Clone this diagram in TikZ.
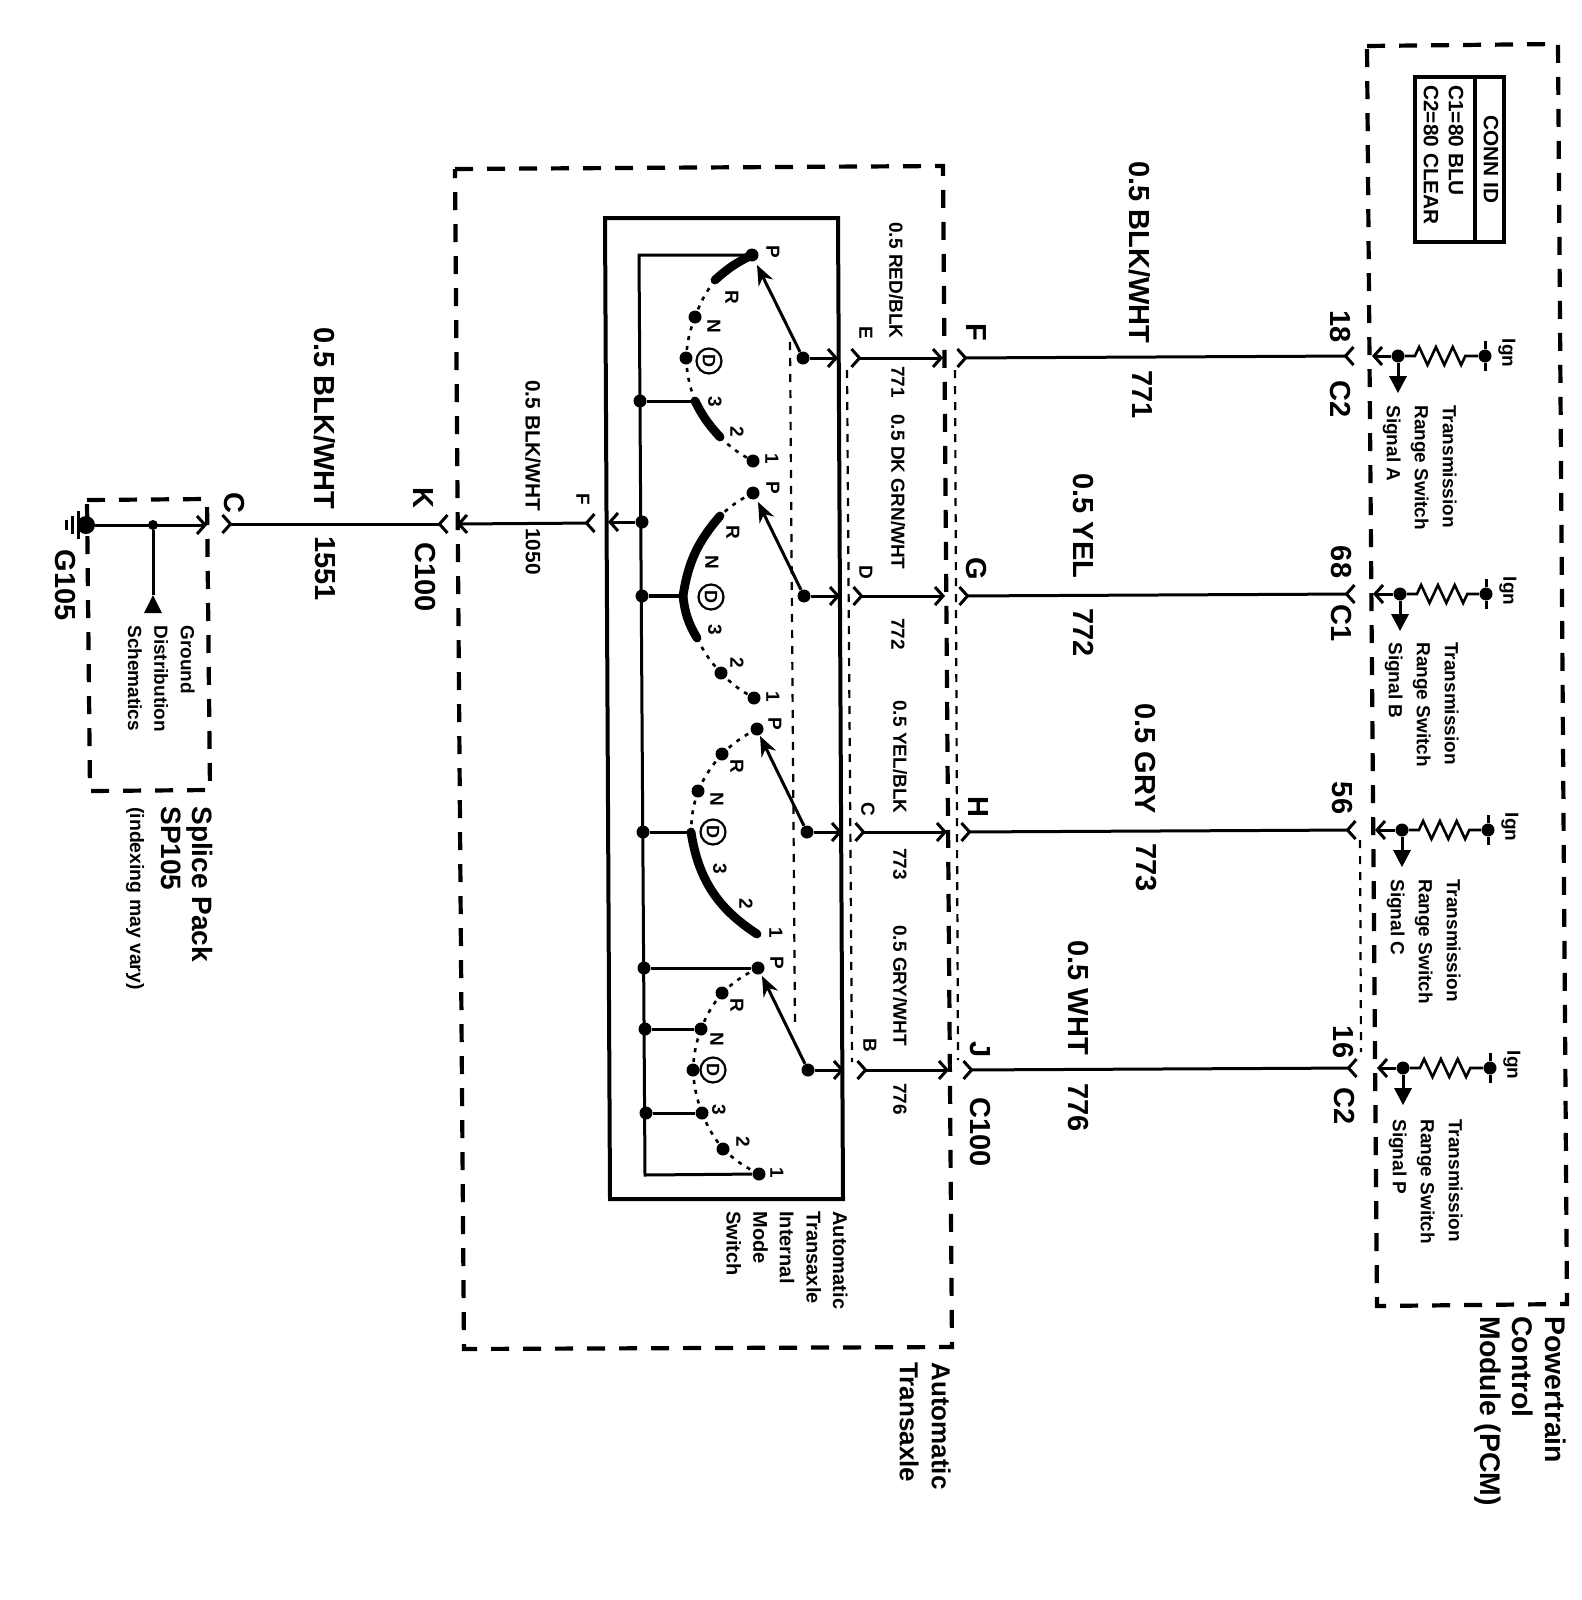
\documentclass[tikz,border=0pt]{standalone}
\usepackage{fontspec}
\setmainfont{Liberation Sans}
\usetikzlibrary{arrows.meta,decorations.pathmorphing}
\tikzset{
  >={Straight Barb[length=4pt,width=9pt]},
  wire/.style={line width=1.5pt},
  rail/.style={line width=1.5pt},
  shell/.style={line width=2.1pt,dash pattern=on 9pt off 7pt},
  thinshell/.style={line width=1.1pt,dash pattern=on 4pt off 4pt},
  dotarc/.style={line width=1.3pt,dash pattern=on 2pt off 3pt},
  thickarc/.style={line width=4.4pt,line cap=round},
  arm/.style={line width=1.5pt,-{Stealth[length=10pt,width=8pt]}},
  dot/.style={circle,fill=black,inner sep=0pt,minimum size=6.5pt},
  bigdot/.style={circle,fill=black,inner sep=0pt,minimum size=9pt},
  txt/.style={rotate=-90,inner sep=0pt,anchor=west},
  biglabel/.style={txt,font=\fontsize{14.5}{16}\selectfont\bfseries},
  midlabel/.style={txt,font=\fontsize{10.4}{13.5}\selectfont\bfseries},
  smalllabel/.style={txt,font=\fontsize{9.5}{14}\selectfont\bfseries},
  contact/.style={rotate=-90,inner sep=0pt,font=\fontsize{9.5}{10}\selectfont\bfseries},
  circd/.style={contact,circle,draw,line width=1.1pt,minimum size=12.5pt,font=\fontsize{9}{10}\selectfont\bfseries},
  block/.style={anchor=north west,align=left},
  coil/.style={line width=1.3pt,decorate,decoration={zigzag,segment length=8.4pt,amplitude=4.5pt,
    pre=lineto,pre length=5pt,post=lineto,post length=5pt}},
}
\begin{document}
\begin{tikzpicture}[x=0.5pt,y=-0.5pt]
\useasboundingbox (0,0) rectangle (1582,1600);

% outer boxes
\draw[shell] (455,169) -- (943,166) -- (952,1347) -- (464,1349) -- cycle;
\draw[shell] (1367,46) -- (1558,44) -- (1567,1304) -- (1377,1306) -- cycle;
\draw[shell] (87,500) -- (207,499) -- (210,790) -- (90,791) -- cycle;
\draw[line width=2pt] (605,218) -- (838,218) -- (843,1199) -- (610,1199) -- cycle;
\draw[line width=2pt] (1415,77) rectangle (1504,242);
\draw[line width=1.6pt] (1475,77) -- (1475,242);

% connector shells
\draw[thinshell] (790,342) -- (795,1029);
\draw[thinshell] (847,370) -- (852,1062);
\draw[thinshell] (955,370) -- (958,1060);
\draw[thinshell] (1360,840) -- (1361,1052);

% contacts
\node[dot] (pE) at (752,255) {};
\coordinate (rE) at (715,280);
\node[dot] (nE) at (695,317) {};
\node[dot] (dE) at (686,358) {};
\coordinate (thE) at (695,401);
\coordinate (twE) at (720,437);
\node[dot] (oE) at (753,461) {};
\node[dot] (hubE) at (803,358) {};
\coordinate (tipE) at (757,265);

\node[dot] (pD) at (753,493) {};
\coordinate (rD) at (720,516);
\coordinate (dD) at (683,596);
\coordinate (thD) at (697,638);
\node[dot] (twD) at (721,673) {};
\node[dot] (oD) at (754,698) {};
\node[dot] (hubD) at (804,596) {};
\coordinate (tipD) at (758,502);

\node[dot] (pC) at (757,729) {};
\node[dot] (rC) at (722,754) {};
\node[dot] (nC) at (698,791) {};
\coordinate (dC) at (691,832);
\coordinate (oC) at (757,934);
\node[dot] (hubC) at (807,832) {};
\coordinate (tipC) at (760,736);

\node[dot] (pB) at (758,968) {};
\node[dot] (rB) at (722,993) {};
\node[dot] (nB) at (701,1029) {};
\node[dot] (dB) at (693,1070) {};
\node[dot] (thB) at (702,1113) {};
\node[dot] (twB) at (723,1149) {};
\node[dot] (oB) at (759,1174) {};
\node[dot] (hubB) at (808,1070) {};
\coordinate (tipB) at (762,976);

% rail
\coordinate (railTop) at (639,255);
\coordinate (railBot) at (645,1175);
\node[dot] (railE) at (640,401) {};
\node[dot] (railF) at (642,522) {};
\node[dot] (railD) at (642,596) {};
\node[dot] (railC) at (643,832) {};
\node[dot] (railP) at (644,968) {};
\node[dot] (railN) at (645,1029) {};
\node[dot] (railT) at (646,1113) {};
\draw[rail] (pE) -- (railTop) -- (railBot) -- (oB);
\draw[rail] (railE) -- (thE);
\draw[line width=2.4pt] (railD) -- (dD);
\draw[rail] (railC) -- (dC);
\draw[rail] (railP) -- (pB);
\draw[rail] (railN) -- (nB);
\draw[rail] (railT) -- (thB);

% arcs
\draw[thickarc] (pE.center) to[bend right=8] (rE);
\draw[dotarc] (rE) to[bend right=8] (nE.center);
\draw[dotarc] (nE.center) to[bend right=8] (dE.center);
\draw[dotarc] (dE.center) to[bend right=8] (thE);
\draw[thickarc] (thE) to[bend right=8] (twE);
\draw[dotarc] (twE) to[bend right=8] (oE.center);

\draw[dotarc] (pD.center) to[bend right=8] (rD);
\draw[thickarc] (rD) to[bend right=16] (dD);
\draw[thickarc] (dD) to[bend right=12] (thD);
\draw[dotarc] (thD) to[bend right=8] (twD.center);
\draw[dotarc] (twD.center) to[bend right=8] (oD.center);

\draw[dotarc] (pC.center) to[bend right=8] (rC.center);
\draw[dotarc] (rC.center) to[bend right=8] (nC.center);
\draw[dotarc] (nC.center) to[bend right=8] (dC);
\draw[thickarc] (dC) to[bend right=24] (oC);

\draw[dotarc] (pB.center) to[bend right=8] (rB.center);
\draw[dotarc] (rB.center) to[bend right=8] (nB.center);
\draw[dotarc] (nB.center) to[bend right=8] (dB.center);
\draw[dotarc] (dB.center) to[bend right=8] (thB.center);
\draw[dotarc] (thB.center) to[bend right=8] (twB.center);
\draw[dotarc] (twB.center) to[bend right=8] (oB.center);

% switch arms
\draw[arm] (hubE) -- (tipE);
\draw[arm] (hubD) -- (tipD);
\draw[arm] (hubC) -- (tipC);
\draw[arm] (hubB) -- (tipB);

% position letters
\node[contact] (lpE) at (773,252) {P};
\node[contact] (lrE) at (732,297) {R};
\node[contact] (lnE) at (714,326) {N};
\node[circd] (ldE) at (709,361) {D};
\node[contact] (ltE) at (715,402) {3};
\node[contact] (lwE) at (737,432) {2};
\node[contact] (loE) at (772,459) {1};
\node[contact] (lpD) at (773,488) {P};
\node[contact] (lrD) at (733,532) {R};
\node[contact] (lnD) at (712,562) {N};
\node[circd] (ldD) at (711,597) {D};
\node[contact] (ltD) at (715,630) {3};
\node[contact] (lwD) at (737,663) {2};
\node[contact] (loD) at (773,697) {1};
\node[contact] (lpC) at (775,724) {P};
\node[contact] (lrC) at (737,766) {R};
\node[contact] (lnC) at (717,799) {N};
\node[circd] (ldC) at (713,832) {D};
\node[contact] (ltC) at (720,869) {3};
\node[contact] (lwC) at (746,904) {2};
\node[contact] (loC) at (776,933) {1};
\node[contact] (lpB) at (777,963) {P};
\node[contact] (lrB) at (737,1005) {R};
\node[contact] (lnB) at (717,1039) {N};
\node[circd] (ldB) at (713,1070) {D};
\node[contact] (ltB) at (719,1110) {3};
\node[contact] (lwB) at (743,1142) {2};
\node[contact] (loB) at (777,1173) {1};

% harness, switch side
\coordinate (inE) at (838,358);
\coordinate (inD) at (840,596);
\coordinate (inC) at (842,832);
\coordinate (inB) at (844,1070);
\coordinate (maleE) at (850,358);
\coordinate (maleD) at (852,596);
\coordinate (maleC) at (854,832);
\coordinate (maleB) at (856,1070);
\coordinate (shellE) at (943,358);
\coordinate (shellD) at (945,596);
\coordinate (shellC) at (947,832);
\coordinate (shellB) at (949,1070);
\coordinate (femE) at (956,358);
\coordinate (femD) at (958,596);
\coordinate (femC) at (960,832);
\coordinate (femB) at (962,1070);
\draw[wire,->] (hubE) -- (inE);
\draw[wire,->] (hubD) -- (inD);
\draw[wire,->] (hubC) -- (inC);
\draw[wire,->] (hubB) -- (inB);
\draw[wire,>->] (maleE) -- (shellE);
\draw[wire,>->] (maleD) -- (shellD);
\draw[wire,>->] (maleC) -- (shellC);
\draw[wire,>->] (maleB) -- (shellB);

% harness, PCM side
\coordinate (pinF) at (1355,356);
\coordinate (pinG) at (1356,594);
\coordinate (pinH) at (1357,830);
\coordinate (pinJ) at (1358,1068);
\coordinate (edgeF) at (1372,356);
\coordinate (edgeG) at (1373,594);
\coordinate (edgeH) at (1375,830);
\coordinate (edgeJ) at (1377,1068);
\draw[wire,>-<] (femE) -- (pinF);
\draw[wire,>-<] (femD) -- (pinG);
\draw[wire,>-<] (femC) -- (pinH);
\draw[wire,>-<] (femB) -- (pinJ);

% pull ups
\node[dot] (hubF) at (1398,356) {};
\node[dot] (hubG) at (1400,594) {};
\node[dot] (hubH) at (1402,830) {};
\node[dot] (hubJ) at (1403,1068) {};
\node[dot] (ignF) at (1485,356) {};
\node[dot] (ignG) at (1486,594) {};
\node[dot] (ignH) at (1488,830) {};
\node[dot] (ignJ) at (1490,1068) {};
\draw[wire,->] (hubF) -- (edgeF);
\draw[wire,->] (hubG) -- (edgeG);
\draw[wire,->] (hubH) -- (edgeH);
\draw[wire,->] (hubJ) -- (edgeJ);
\draw[coil] (hubF) -- (ignF);
\draw[coil] (hubG) -- (ignG);
\draw[coil] (hubH) -- (ignH);
\draw[coil] (hubJ) -- (ignJ);
\draw[wire] (1485,341) -- (ignF) -- (1485,371);
\draw[wire] (1486,579) -- (ignG) -- (1486,609);
\draw[wire] (1488,815) -- (ignH) -- (1488,845);
\draw[wire] (1490,1053) -- (ignJ) -- (1490,1083);
\coordinate (sigF) at (1398,376);
\coordinate (sigG) at (1400,614);
\coordinate (sigH) at (1402,850);
\coordinate (sigJ) at (1403,1088);
\draw[wire] (hubF) -- (sigF);
\draw[wire] (hubG) -- (sigG);
\draw[wire] (hubH) -- (sigH);
\draw[wire] (hubJ) -- (sigJ);
\fill (1389,376) -- (1407,376) -- (1398,393) -- cycle;
\fill (1391,614) -- (1409,614) -- (1400,631) -- cycle;
\fill (1393,850) -- (1411,850) -- (1402,867) -- cycle;
\fill (1394,1088) -- (1412,1088) -- (1403,1105) -- cycle;

% ground side
\node[bigdot] (gnd) at (86,525) {};
\node[dot,minimum size=5pt] (hubS) at (153,525) {};
\coordinate (spliceIn) at (207,525);
\coordinate (spliceOut) at (221,524);
\coordinate (pinK) at (449,524);
\coordinate (shellK) at (457,524);
\coordinate (pinL) at (596,523);
\coordinate (boxL) at (608,522);
\coordinate (toDist) at (153,595);
\draw[wire,->] (gnd) -- (spliceIn);
\draw[wire,>-<] (spliceOut) -- (pinK);
\draw[wire,<-<] (shellK) -- (pinL);
\draw[wire,<-] (boxL) -- (railF);
\draw[wire] (hubS) -- (toDist);
\fill (144,613) -- (162,613) -- (153,595) -- cycle;
\draw[wire] (gnd) -- (78,525);
\draw[wire] (78,511) -- (78,539);
\draw[wire] (72,516) -- (72,534);
\draw[wire] (66,520) -- (66,530);

% wire labels
\node[biglabel] (wireF) at (1140,161) {0.5 BLK/WHT};
\node[biglabel] (numF) at (1142,370) {771};
\node[biglabel] (wireG) at (1083,473) {0.5 YEL};
\node[biglabel] (numG) at (1084,608) {772};
\node[biglabel] (wireH) at (1145,703) {0.5 GRY};
\node[biglabel] (numH) at (1146,843) {773};
\node[biglabel] (wireJ) at (1078,940) {0.5 WHT};
\node[biglabel] (numJ) at (1078,1083) {776};
\node[biglabel] (wireK) at (325,327) {0.5 BLK/WHT};
\node[biglabel] (numK) at (325,536) {1551};
\node[midlabel] (wireL) at (533,380) {0.5 BLK/WHT};
\node[midlabel] (numL) at (533,528) {1050};
\node[smalllabel] (wireE) at (896,222) {0.5 RED/BLK};
\node[smalllabel] (numE) at (898,366) {771};
\node[smalllabel] (wireD) at (898,414) {0.5 DK GRN/WHT};
\node[smalllabel] (numD) at (898,618) {772};
\node[smalllabel] (wireC) at (900,700) {0.5 YEL/BLK};
\node[smalllabel] (numC) at (900,848) {773};
\node[smalllabel] (wireB) at (900,925) {0.5 GRY/WHT};
\node[smalllabel] (numB) at (900,1083) {776};

% cavity letters
\node[smalllabel,anchor=center] (cavE) at (866,333) {E};
\node[smalllabel,anchor=center] (cavD) at (866,572) {D};
\node[smalllabel,anchor=center] (cavC) at (868,809) {C};
\node[smalllabel,anchor=center] (cavB) at (870,1045) {B};
\node[smalllabel,anchor=center] (cavL) at (583,499) {F};
\node[biglabel,anchor=center] (cavF) at (976,332) {F};
\node[biglabel,anchor=center] (cavG) at (976,569) {G};
\node[biglabel,anchor=center] (cavH) at (978,807) {H};
\node[biglabel,anchor=center] (cavJ) at (980,1050) {J};
\node[biglabel,anchor=center] (connA) at (980,1132) {C100};
\node[biglabel,anchor=center] (cavK) at (423,498) {K};
\node[biglabel,anchor=center] (connB) at (425,577) {C100};
\node[biglabel,anchor=center] (cavS) at (234,503) {C};
\node[biglabel,anchor=center] (gndname) at (65,585) {G105};
\node[biglabel,anchor=center] (pinA) at (1340,327) {18};
\node[biglabel,anchor=center] (connC) at (1340,399) {C2};
\node[biglabel,anchor=center] (pinB) at (1341,562) {68};
\node[biglabel,anchor=center] (connD) at (1341,623) {C1};
\node[biglabel,anchor=center] (pinC) at (1342,798) {56};
\node[biglabel,anchor=center] (pinD) at (1343,1042) {16};
\node[biglabel,anchor=center] (connE) at (1344,1106) {C2};

% PCM text
\node[smalllabel,anchor=center] (ignA) at (1507,353) {Ign};
\node[smalllabel,anchor=center] (ignB) at (1508,591) {Ign};
\node[smalllabel,anchor=center] (ignC) at (1510,827) {Ign};
\node[smalllabel,anchor=center] (ignD) at (1512,1065) {Ign};
\node[smalllabel,block] (sigA) at (1457,405) {Transmission\\Range Switch\\Signal A};
\node[smalllabel,block] (sigB) at (1459,642) {Transmission\\Range Switch\\Signal B};
\node[smalllabel,block] (sigC) at (1461,879) {Transmission\\Range Switch\\Signal C};
\node[smalllabel,block] (sigP) at (1463,1119) {Transmission\\Range Switch\\Signal P};
\node[midlabel] (connid) at (1491,115) {CONN ID};
\node[midlabel] (connOne) at (1456,85) {C1=80 BLU};
\node[midlabel] (connTwo) at (1431,85) {C2=80 CLEAR};
\node[biglabel,block,font=\fontsize{14.2}{16.2}\selectfont\bfseries] (pcm) at (1566,1316) {Powertrain\\Control\\Module (PCM)};

% other names
\node[biglabel,block,font=\fontsize{13}{16}\selectfont\bfseries] (trans) at (951,1362) {Automatic\\Transaxle};
\node[midlabel,block,font=\fontsize{10}{13.3}\selectfont\bfseries] (modesw) at (848,1211) {Automatic\\Transaxle\\Internal\\Mode\\Switch};
\node[biglabel,block,font=\fontsize{14}{15.5}\selectfont\bfseries] (splice) at (213,806) {Splice Pack\\SP105};
\node[midlabel,font=\fontsize{9.7}{12}\selectfont\bfseries] (index) at (135,807) {(indexing may vary)};
\node[smalllabel,block,font=\fontsize{9.5}{13.2}\selectfont\bfseries] (dist) at (195,625) {Ground\\Distribution\\Schematics};
\end{tikzpicture}
\end{document}
